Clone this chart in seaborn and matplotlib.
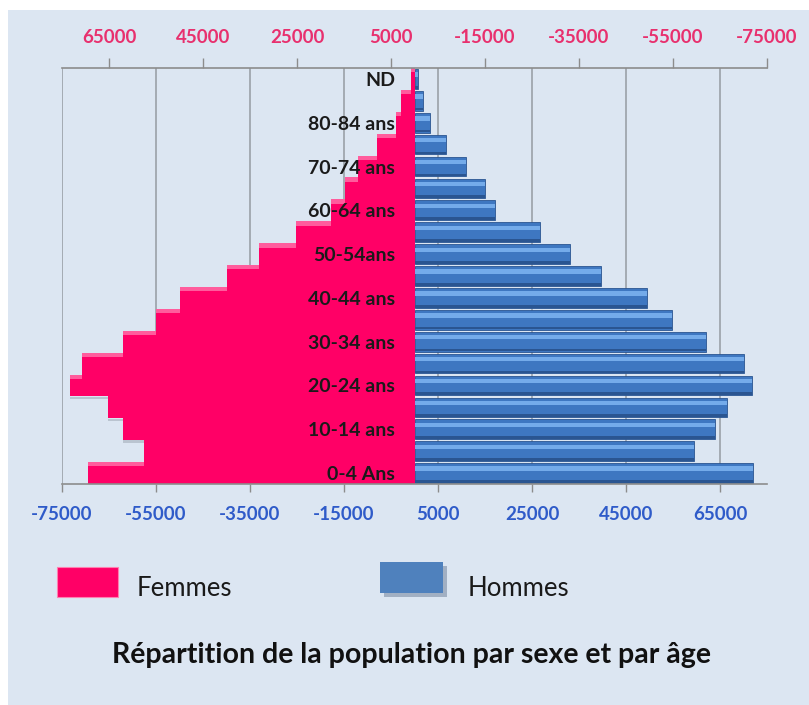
import numpy as np
import seaborn as sns
import matplotlib.pyplot as plt
from matplotlib.patches import Rectangle

sns.set_theme(style="white")
plt.rcParams["font.family"] = ["Lato", "DejaVu Sans"]
plt.rcParams["axes.unicode_minus"] = False

# age groups, bottom to top
ages = ["0-4 Ans", "5-9 ans", "10-14 ans", "15-19 ans", "20-24 ans", "25-29 ans",
        "30-34 ans", "35-39 ans", "40-44 ans", "45-49 ans", "50-54ans", "55-59 ans",
        "60-64 ans", "65-69 ans", "70-74 ans", "75-79 ans", "80-84 ans", "85 ans et +", "ND"]
femmes = [-69500, -57600, -62000, -65200, -73200, -70800, -62100, -54900, -49900, -40000,
          -33100, -25300, -17700, -14700, -12000, -8000, -3900, -2900, -800]
hommes = [72000, 59500, 64000, 66400, 71900, 70000, 62000, 54800, 49400, 39700,
          33000, 26600, 17200, 14900, 11000, 6700, 3200, 1900, 700]
bottom_ticks = list(range(-75000, 65001, 20000))
top_ticks = list(range(65000, -75001, -20000))

BG = "#dce6f2"
PINK = "#ff0066"
PINK_LIGHT = "#ff5c9d"
BLUE = "#3e77c1"
BLUE_LIGHT = "#74abea"
BLUE_DARK = "#2a5591"
GRID = "#a4abb3"

fig = plt.figure(figsize=(8.09, 7.05), dpi=100)
fig.patch.set_facecolor("white")
fig.patches.append(Rectangle((8 / 809, 0), 1, 1 - 10 / 705, transform=fig.transFigure,
                             facecolor=BG, edgecolor="none", zorder=-10))

ax = fig.add_axes([62 / 809, 1 - 484 / 705, (767 - 62) / 809, (484 - 68) / 705])
ax.set_facecolor("none")

# Femmes: solid staircase with a lighter step edge
sns.barplot(x=femmes, y=ages, order=ages, orient="y", color=PINK, saturation=1,
            width=1.0, linewidth=0, ax=ax, zorder=1)
pos = np.arange(len(ages))
for i in pos:
    nxt = femmes[i + 1] if i < len(ages) - 1 else 0
    if femmes[i] < nxt:
        ax.barh(i + 0.4, femmes[i] - nxt, left=nxt, height=0.2, color=PINK_LIGHT,
                linewidth=0, zorder=1.2)
    prev = femmes[i - 1] if i > 0 else 0
    if femmes[i] < prev:
        ax.barh(i - 0.56, femmes[i] - prev, left=prev, height=0.1, color="#9aa3b0",
                alpha=0.5, linewidth=0, zorder=0.9)

# Hommes: bevelled bars
sns.barplot(x=hommes, y=ages, order=ages, orient="y", color=BLUE, saturation=1,
            width=0.9, linewidth=0.6, edgecolor=BLUE_DARK, ax=ax, zorder=1)
ax.barh(pos + 0.2, hommes, height=0.2, color=BLUE_LIGHT, linewidth=0, zorder=1.2)
ax.barh(pos - 0.38, hommes, height=0.12, color=BLUE_DARK, linewidth=0, zorder=1.2)

ax.set_ylim(-0.5, len(ages) - 0.5)
ax.set_xlim(-75000, 75000)
ax.set_xlabel("")
ax.set_ylabel("")

ax.spines["left"].set_position(("data", 0))
ax.spines["left"].set_color("none")
ax.spines["right"].set_visible(False)
ax.spines["top"].set_visible(False)
ax.spines["bottom"].set_color("#8c8c8c")
ax.spines["bottom"].set_linewidth(1.2)

ax.set_xticks(bottom_ticks)
ax.set_xticklabels([str(v) for v in bottom_ticks], color="#2f5bc9",
                   fontsize=13.5, fontweight="bold")
ax.tick_params(axis="x", direction="out", length=6, width=1, color="#8c8c8c",
               pad=10, bottom=True)

ax.set_yticks(pos)
ax.set_yticklabels([a if i % 2 == 0 else "" for i, a in enumerate(ages)],
                   fontsize=14, fontweight="bold", color="#1a1a1a")
ax.tick_params(axis="y", length=0, pad=14)

# vertical gridlines under the bars, tick labels stay above them
for t in bottom_ticks:
    ax.axvline(t, color=GRID, linewidth=1.4, zorder=0.5)
ax.grid(False)
ax.set_axisbelow(False)

# reversed scale on top
ax2 = ax.twiny()
ax2.set_xlim(75000, -75000)
ax2.set_xticks(top_ticks)
ax2.set_xticklabels([str(v) for v in top_ticks], color="#e8306e",
                    fontsize=13.5, fontweight="bold")
ax2.tick_params(axis="x", direction="out", length=7, width=1, color="#8c8c8c", pad=9)
for side in ["left", "right", "bottom"]:
    ax2.spines[side].set_visible(False)
ax2.spines["top"].set_color("#8c8c8c")
ax2.spines["top"].set_linewidth(1.2)
ax2.set_facecolor("none")
ax2.grid(False)

# legend
fig.patches.append(Rectangle((57 / 809, 1 - 597 / 705), 61 / 809, 30 / 705,
                             transform=fig.transFigure, facecolor=PINK,
                             edgecolor="#ff7fb0", linewidth=0.8))
fig.patches.append(Rectangle((384 / 809, 1 - 597 / 705), 63 / 809, 31 / 705,
                             transform=fig.transFigure, facecolor="#8a9ab0",
                             edgecolor="none", alpha=0.7))
fig.patches.append(Rectangle((380 / 809, 1 - 593 / 705), 63 / 809, 31 / 705,
                             transform=fig.transFigure, facecolor="#4f81bd",
                             edgecolor="none"))
fig.text(137 / 809, 1 - 588 / 705, "Femmes", fontsize=18.5, color="#1a1a1a", va="center")
fig.text(468 / 809, 1 - 588 / 705, "Hommes", fontsize=18.5, color="#1a1a1a", va="center")

fig.text(412 / 809, 1 - 655 / 705, "Répartition de la population par sexe et par âge",
         fontsize=20.5, fontweight="bold", color="#111111", ha="center", va="center")

fig.savefig("out.png", dpi=100, facecolor=fig.get_facecolor())
